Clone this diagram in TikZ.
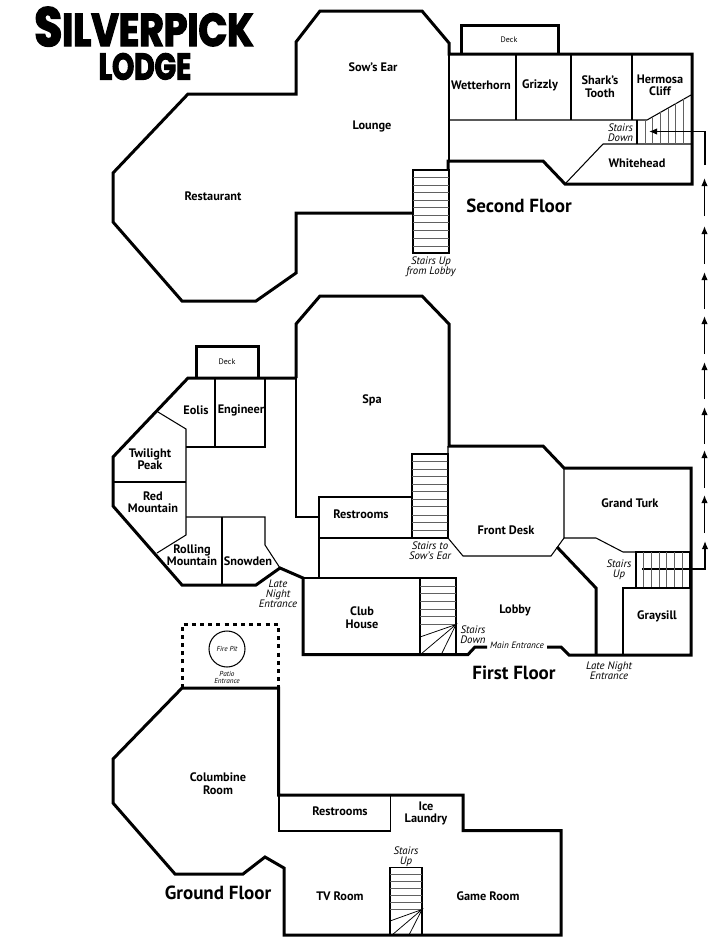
\documentclass[tikz,border=0pt]{standalone}
\usepackage{fontspec}
\usetikzlibrary{arrows.meta}
\setmainfont{PT Sans}
\newfontfamily\titlefont[FakeBold=3,FakeStretch=0.82]{Poppins Bold}
\newfontfamily\titlefontb[FakeBold=3,FakeStretch=0.76]{Poppins Bold}
\tikzset{
  wall/.style={line width=3pt,line cap=butt,line join=miter,miter limit=4},
  inner/.style={line width=1.05pt,line join=miter},
  tread/.style={line width=0.65pt,draw=black!62},
  fan/.style={line width=0.75pt},
  room/.style={font=\fontsize{12.3}{12.4}\selectfont\bfseries,align=center,inner sep=0pt},
  floorlabel/.style={font=\fontsize{19}{18}\selectfont\bfseries,inner sep=0pt},
  note/.style={font=\fontsize{10.8}{10}\selectfont\itshape,align=center,inner sep=0pt},
  tiny/.style={font=\fontsize{8}{8}\selectfont,align=center,inner sep=0pt},
  flow/.style={line width=1.4pt,-{Latex[length=8pt,width=6.5pt]}},
}
\begin{document}
\begin{tikzpicture}[x=1pt,y=-1pt]
\useasboundingbox (0,0) rectangle (718,948);
\fill[white] (0,0) rectangle (718,948);

% ---- title
\node[inner sep=0pt,anchor=base] (titleA) at (144,46) {\titlefont\fontsize{55}{55}\selectfont S\fontsize{46}{46}\selectfont ILVERPICK};
\node[inner sep=0pt,anchor=base] (titleB) at (145,79.5) {\titlefontb\fontsize{37}{37}\selectfont LODGE};

% ---- second floor
\draw[wall] (413,213) -- (296,213) -- (296,273) -- (256,301) -- (182,301) -- (113,222) -- (113,173)
  -- (188,94) -- (296,94) -- (296,42) -- (320,11) -- (422,11) -- (449,43) -- (449,54) -- (692,54)
  -- (692,184) -- (565,184) -- (543,161) -- (448,161) -- (448,170);
\draw[wall] (461,54) -- (461,25) -- (558,25) -- (558,54);
\draw[inner] (449,54) -- (449,161);
\draw[inner] (449,120) -- (647,120) -- (691,95);
\foreach \x in {516,571,632} \draw[inner] (\x,54) -- (\x,120);
\draw[inner] (637,120) -- (637,144);
\draw[inner] (691,144) -- (603,144) -- (565,184);
\foreach \x/\t in {645/120,652/116.5,660/112,668/107.5,675/103,683/99} \draw[tread] (\x,\t) -- (\x,144);
\draw[inner] (413,170) rectangle (449,253);
\foreach \y in {177.3,185,192.7,200,207.7,215,222.7,230.7,238.3,246} \draw[tread] (413,\y) -- (449,\y);

\node[tiny] (deckA) at (509,40) {Deck};
\node[room] (sow) at (373,67.5) {Sow's Ear};
\node[room] (lounge) at (372,126) {Lounge};
\node[room] (rest) at (213,196) {Restaurant};
\node[room] (wet) at (481,85.5) {Wetterhorn};
\node[room] (griz) at (540,85.5) {Grizzly};
\node[room] (shark) at (600,86.5) {Shark's\\Tooth};
\node[room] (herm) at (660,85.5) {Hermosa\\Cliff};
\node[room] (white) at (637,163.5) {Whitehead};
\node[note] (sd2) at (620.5,133) {Stairs\\Down};
\node[note] (sup2) at (431,266.5) {Stairs Up\\from Lobby};
\node[floorlabel] (f2) at (519,205.5) {Second Floor};

% ---- route arrows
\coordinate (r0) at (705,165); \coordinate (r0b) at (705,131.5); \coordinate (r0c) at (649,131.5);
\draw[line width=1.4pt] (r0) -- (r0b) -- (664,131.5);
\draw[flow] (664,131.5) -- (r0c);
\foreach \a/\b in {216/178,264/226,309/272,354/316,399/362,444/407,488/450,533/495} \draw[flow] (704.5,\a) -- (704.5,\b);
\coordinate (r1) at (642,569); \coordinate (r1b) at (705,569); \coordinate (r1c) at (705,541);
\draw[line width=1.4pt] (r1) -- (r1b) -- (705,555);
\draw[flow] (705,555) -- (r1c);

% ---- first floor
\draw[wall] (296,378) -- (296,324) -- (320,296) -- (422,296) -- (449,324) -- (449,446) -- (543,446)
  -- (564,468) -- (691,468) -- (691,655) -- (569,655) -- (561,647) -- (547,647);
\draw[wall] (487,647) -- (475,647) -- (468,654.5) -- (303,654.5) -- (303,578) -- (280,568) -- (256,585)
  -- (182,585) -- (113,506) -- (113,457) -- (188,378) -- (296,378);
\draw[wall] (196,378) -- (196,346) -- (258,346) -- (258,378);
\draw[wall] (557,547) -- (596,588) -- (596,655);

\draw[inner] (296,378) -- (296,517) -- (319,517);
\draw[inner] (265,378) -- (265,447) -- (186,447);
\draw[inner] (215,378) -- (215,447);
\draw[inner] (158,412) -- (186,429) -- (186,535) -- (157,553);
\draw[inner] (113,482) -- (186,482);
\draw[inner] (186,517) -- (265,517) -- (265,545) -- (280,568);
\draw[inner] (222,517) -- (222,585);
\draw[inner] (319,578) -- (319,497) -- (412,497);
\draw[inner] (319,538) -- (448,538);
\draw[inner] (412,454) rectangle (448,538);
\foreach \y in {461.7,469.3,476.7,484.3,491.7,499.3,506.7,515,522.3,530} \draw[tread] (412,\y) -- (448,\y);
\draw[inner] (448,446) -- (448,538) -- (463,556) -- (551,556) -- (564,538);
\draw[inner] (564,468) -- (564,538) -- (596,538) -- (623,552) -- (690,552);
\draw[inner] (636,552) rectangle (689.5,588);
\foreach \x in {643.7,651.3,659,666.7,674.3,682} \draw[tread] (\x,552) -- (\x,588);
\draw[inner] (623,655) -- (623,588) -- (690,588);
\draw[inner] (303,578) -- (456,578) -- (456,654);
\draw[inner] (420,578) -- (420,654);
\foreach \y in {586,593.7,601.7,609,616.7,624} \draw[tread] (420,\y) -- (456,\y);
\draw[fan] (420,637) -- (456,624.5) -- (421,654);
\draw[fan] (456,624.5) -- (441.5,654);

\node[tiny] (deckB) at (227,361.5) {Deck};
\node[room] (spa) at (372,400.5) {Spa};
\node[room] (eolis) at (196,410.5) {Eolis};
\node[room] (eng) at (241,410.5) {Engineer};
\node[room] (twi) at (150,459.5) {Twilight\\Peak};
\node[room] (red) at (153,502.5) {Red\\Mountain};
\node[room] (roll) at (192,555) {Rolling\\Mountain};
\node[room] (snow) at (248,561.5) {Snowden};
\node[room] (restA) at (361,514.5) {Restrooms};
\node[room] (club) at (362,617.5) {Club\\House};
\node[room] (desk) at (506,530.5) {Front Desk};
\node[room] (turk) at (630,503.5) {Grand Turk};
\node[room] (lobby) at (515,610.5) {Lobby};
\node[room] (gray) at (657,616.5) {Graysill};
\node[note] (ln1) at (278,593.5) {Late\\Night\\Entrance};
\node[note] (s2s) at (430,550.5) {Stairs to\\Sow's Ear};
\node[note] (sd1) at (473,634.5) {Stairs\\Down};
\node[note] (su1) at (619,569.5) {Stairs\\Up};
\node[note,font=\fontsize{9.2}{9}\selectfont\itshape] (main) at (517,645.5) {Main Entrance};
\node[note] (ln2) at (609,670.5) {Late Night\\Entrance};
\node[floorlabel] (f1) at (514,672.5) {First Floor};

% ---- ground floor
\draw[line width=3pt,dash pattern=on 4pt off 4.2pt] (182,688) -- (182,624) -- (278,624) -- (278,688);
\draw[inner] (227,649) circle[radius=18];
\node[tiny,font=\fontsize{7.2}{7.2}\selectfont\itshape] (fire) at (227,649) {Fire Pit};
\node[tiny,font=\fontsize{7.2}{7}\selectfont\itshape] (patio) at (227,677) {Patio\\Entrance};
\draw[wall] (278.5,795) -- (278.5,688) -- (182,688) -- (113,759) -- (113,803) -- (175,874) -- (243,874)
  -- (265,857) -- (284,868) -- (284,935) -- (561,935) -- (561,830.5) -- (463,830.5) -- (463,795) -- (277,795);
\draw[inner] (279,795) -- (279,831) -- (390.5,831) -- (390.5,795);
\draw[inner] (390,935) -- (390,867.5) -- (422,867.5) -- (422,935);
\foreach \y in {874,881,888,895,902,909.3} \draw[tread] (390,\y) -- (422,\y);
\draw[fan] (390,921) -- (422,909.5) -- (392,935);
\draw[fan] (422,909.5) -- (409,935);

\node[room] (col) at (218,783.5) {Columbine\\Room};
\node[room] (restB) at (340,811.5) {Restrooms};
\node[room] (ice) at (426,813.5) {Ice\\Laundry};
\node[note] (su0) at (406,856.5) {Stairs\\Up};
\node[room] (tv) at (340,896) {TV Room};
\node[room] (game) at (488,896.5) {Game Room};
\node[floorlabel] (f0) at (218,892.5) {Ground Floor};
\end{tikzpicture}
\end{document}
